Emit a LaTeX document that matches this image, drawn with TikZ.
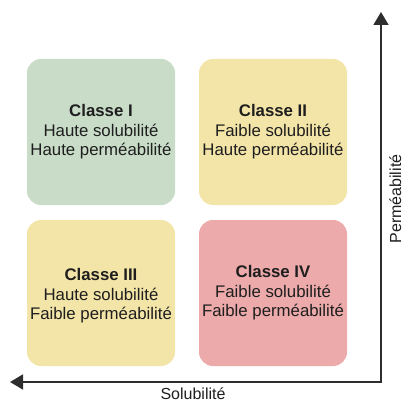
\documentclass[tikz,border=0pt]{standalone}
\usepackage{fontspec}
\setmainfont{Liberation Sans}
\usetikzlibrary{arrows.meta}
\definecolor{cgreen}{RGB}{200,220,200}
\definecolor{cyellow}{RGB}{243,228,168}
\definecolor{cred}{RGB}{236,170,170}
\definecolor{caxis}{RGB}{45,45,45}
\definecolor{ctext}{RGB}{30,30,30}
\begin{document}
\begin{tikzpicture}[x=1pt,y=-1pt,
  classbox/.style={rectangle,rounded corners=14pt,minimum width=148pt,minimum height=146pt,inner sep=0pt,draw=none},
  classtext/.style={align=center,font=\fontsize{16.8}{19.4}\selectfont,text=ctext},
  axisline/.style={draw=caxis,line width=1.5pt,-{Triangle[length=13pt,width=15pt]}},
  axislabel/.style={font=\fontsize{16}{19}\selectfont,text=ctext,inner sep=0pt}]
\useasboundingbox (0,0) rectangle (403,403);
\node[classbox,fill=cgreen] (b1) at (101,132) {};
\node[classbox,fill=cyellow] (b2) at (273,132) {};
\node[classbox,fill=cyellow] (b3) at (101,293) {};
\node[classbox,fill=cred] (b4) at (273,293) {};
\node[classtext] (t1) at (b1.center) {\textbf{Classe I}\\Haute solubilité\\Haute perméabilité};
\node[classtext] (t2) at (b2.center) {\textbf{Classe II}\\Faible solubilité\\Haute perméabilité};
\node[classtext] (t3) at ([yshift=-3pt]b3.center) {\textbf{Classe III}\\Haute solubilité\\Faible perméabilité};
\node[classtext] (t4) at (b4.center) {\textbf{Classe IV}\\Faible solubilité\\Faible perméabilité};
\coordinate (o) at (381,382);
\coordinate (ytip) at (381,12);
\coordinate (xtip) at (10,382);
\draw[axisline] (o) -- (ytip);
\draw[axisline] ([xshift=0.75pt]o) -- (xtip);
\node[axislabel,anchor=base] (xl) at (193,399) {Solubilité};
\node[axislabel,rotate=90,anchor=base] (yl) at (401,199) {Perméabilité};
\end{tikzpicture}
\end{document}
